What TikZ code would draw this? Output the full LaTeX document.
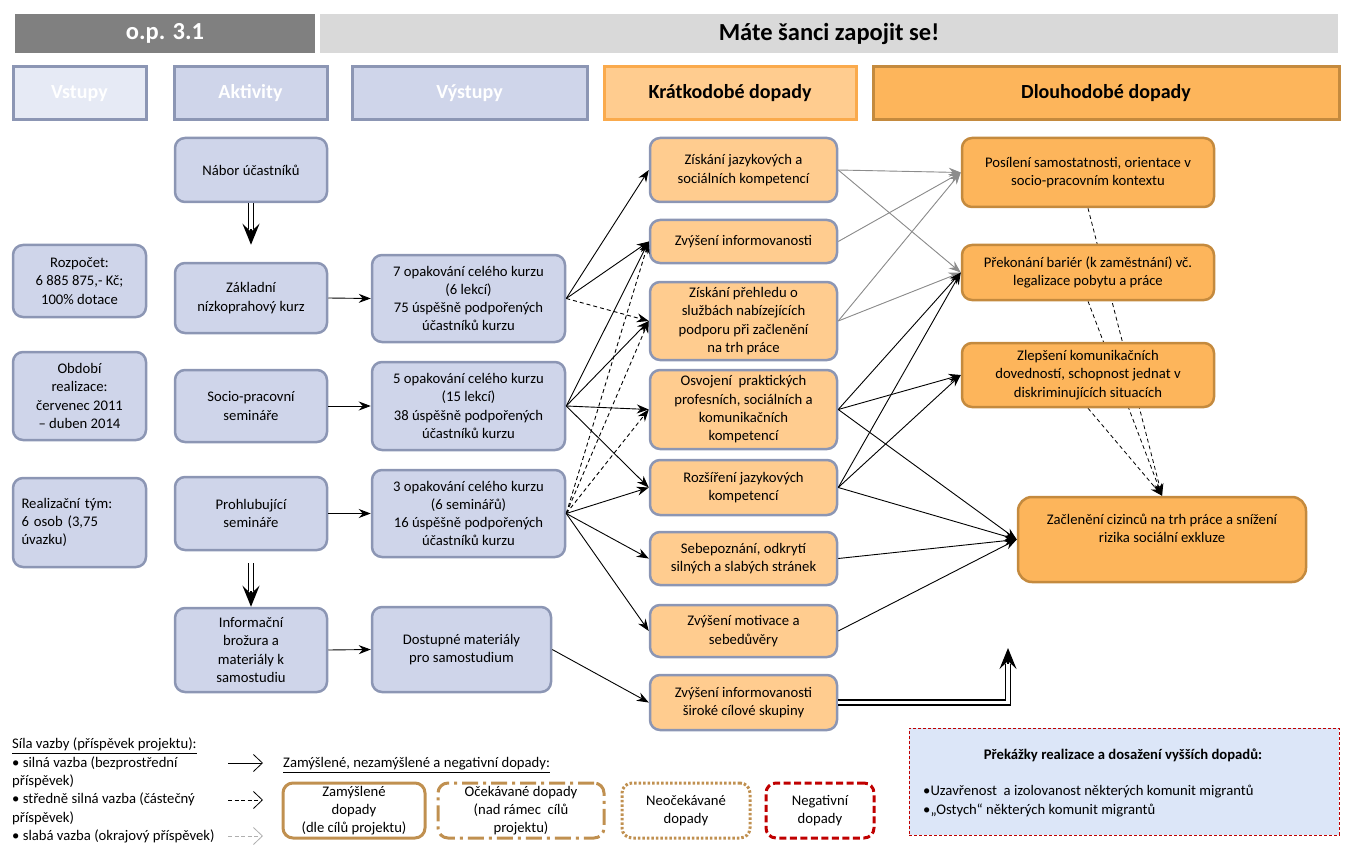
\documentclass[tikz,border=0pt]{standalone}
\usepackage{fontspec}
\setmainfont{Carlito}
\usepackage{tikz}
\usetikzlibrary{arrows.meta,backgrounds}
\definecolor{actfill}{HTML}{CFD5EA}
\definecolor{actline}{HTML}{8C96B4}
\definecolor{infill}{HTML}{E6EAF5}
\definecolor{stfill}{HTML}{FFCC8F}
\definecolor{sthead}{HTML}{FAAA4C}
\definecolor{ltfill}{HTML}{FDB55B}
\definecolor{ltline}{HTML}{C48A3E}
\definecolor{lgbrown}{HTML}{C09050}
\definecolor{negred}{HTML}{C00000}
\definecolor{obsfill}{HTML}{DCE6F8}
\definecolor{weakgray}{HTML}{8C8C8C}
\definecolor{opgray}{HTML}{808080}
\definecolor{titlegray}{HTML}{D9D9D9}
\tikzstyle{arrow} = [line width=0.9pt,->,>={Stealth[length=12pt,width=9pt,inset=4pt]}]
\tikzstyle{arrow_d} = [arrow,dash pattern=on 4pt off 3pt]
\tikzstyle{arrow_g} = [arrow,draw=weakgray,fill=weakgray]
\tikzstyle{arrow_2} = [line width=1.2pt,-{Stealth[length=21pt,width=17pt,inset=8pt]}]
\tikzstyle{double_line} = [double,double distance=3.5pt,line width=1.3pt]
\tikzstyle{legend_arrow} = [line width=0.8pt,-{Straight Barb[length=9pt,width=17pt]}]
\tikzstyle{act} = [rectangle,rounded corners=10pt,draw=actline,fill=actfill,line width=2.5pt,align=center,inner sep=2pt,font=\fontsize{14.67}{18.3}\selectfont]
\tikzstyle{st} = [act,fill=stfill]
\tikzstyle{lt} = [act,draw=ltline,fill=ltfill]
\tikzstyle{head} = [rectangle,line width=3pt,minimum height=53pt,font=\fontsize{20}{24}\selectfont\bfseries]
\tikzstyle{legend_box} = [rectangle,rounded corners=10pt,line width=3pt,draw=lgbrown,minimum height=55pt,align=center,inner sep=1pt,font=\fontsize{14.67}{18.3}\selectfont]
\tikzstyle{legend_txt} = [align=left,inner sep=0pt,font=\fontsize{14.67}{18.3}\selectfont]

\begin{document}
\begin{tikzpicture}[x=1pt,y=-1pt]
    \useasboundingbox (0,0) rectangle (1352,853);

    \node (op) [fill=opgray, minimum width=300pt, minimum height=39pt, text=white, font=\fontsize{24.5}{28}\selectfont\bfseries] at (165,33.5) {o.p. 3.1};
    \node (title) [fill=titlegray, minimum width=1018pt, minimum height=39pt, font=\fontsize{24.5}{28}\selectfont\bfseries] at (829,33.5) {Máte šanci zapojit se!};

    \node (h_vstupy) [head, draw=actline, fill=infill, text=white, minimum width=133pt] at (79.5,93.5) {Vstupy};
    \node (h_aktivity) [head, draw=actline, fill=actfill, text=white, minimum width=153pt] at (250.5,93.5) {Aktivity};
    \node (h_vystupy) [head, draw=actline, fill=actfill, text=white, minimum width=235pt] at (469.5,93.5) {Výstupy};
    \node (h_kratko) [head, draw=sthead, fill=stfill, minimum width=252pt] at (730,93.5) {Krátkodobé dopady};
    \node (h_dlouho) [head, draw=ltline, fill=ltfill, minimum width=466pt] at (1106,93.5) {Dlouhodobé dopady};

    \node (rozpocet) [act, minimum width=133pt, minimum height=72pt] at (79.5,281) {Rozpočet:\\6 885 875,- Kč;\\100\% dotace};
    \node (obdobi) [act, minimum width=133pt, minimum height=88pt] at (79.5,396) {Období\\realizace:\\červenec 2011\\– duben 2014};
    \node (tym) [act, align=left, minimum width=133pt, minimum height=89pt, text width=116pt] at (79.5,522.5) {Realizační tým:\\ 6 osob (3,75\\úvazku)};

    \node (nabor) [act, minimum width=152pt, minimum height=64pt] at (251,170) {Nábor účastníků};
    \node (zakladni) [act, minimum width=152pt, minimum height=70pt] at (251,298) {Základní\\nízkoprahový kurz};
    \node (socio) [act, minimum width=152pt, minimum height=72pt] at (251,406) {Socio-pracovní\\semináře};
    \node (prohlub) [act, minimum width=152pt, minimum height=73pt] at (251,513.5) {Prohlubující\\semináře};
    \node (brozura) [act, minimum width=152pt, minimum height=84pt] at (251,650) {Informační\\brožura a\\materiály k\\samostudiu};

    \node (out_7) [act, minimum width=193pt, minimum height=87pt] at (468.5,298.5) {7 opakování celého kurzu\\(6 lekcí)\\75 úspěšně podpořených\\účastníků kurzu};
    \node (out_5) [act, minimum width=193pt, minimum height=88pt] at (468.5,406) {5 opakování celého kurzu\\(15 lekcí)\\38 úspěšně podpořených\\účastníků kurzu};
    \node (out_3) [act, minimum width=193pt, minimum height=87pt] at (468.5,513.5) {3 opakování celého kurzu\\(6 seminářů)\\16 úspěšně podpořených\\účastníků kurzu};
    \node (out_mat) [act, minimum width=179pt, minimum height=85pt] at (461.5,649.5) {Dostupné materiály\\pro samostudium};

    \node (st_jazyk) [st, minimum width=187pt, minimum height=64pt] at (743.5,170) {Získání jazykových a\\sociálních kompetencí};
    \node (st_info) [st, minimum width=187pt, minimum height=43pt] at (743.5,241.5) {Zvýšení informovanosti};
    \node (st_prehled) [st, minimum width=187pt, minimum height=78pt] at (743.5,321) {Získání přehledu o\\službách nabízejících\\podporu při začlenění\\na trh práce};
    \node (st_osvojeni) [st, minimum width=187pt, minimum height=79pt] at (743.5,409.5) {Osvojení~ praktických\\profesních, sociálních a\\komunikačních\\kompetencí};
    \node (st_rozsireni) [st, minimum width=187pt, minimum height=55pt] at (743.5,487.5) {Rozšíření jazykových\\kompetencí};
    \node (st_sebe) [st, minimum width=187pt, minimum height=53pt] at (743.5,558.5) {Sebepoznání, odkrytí\\silných a slabých stránek};
    \node (st_motivace) [st, minimum width=187pt, minimum height=52pt] at (743.5,631) {Zvýšení motivace a\\sebedůvěry};
    \node (st_siroke) [st, minimum width=187pt, minimum height=55pt] at (743.5,702.5) {Zvýšení informovanosti\\široké cílové skupiny};

    \node (lt_posileni) [lt, minimum width=252pt, minimum height=69pt] at (1088,172.5) {Posílení samostatnosti, orientace v\\socio-pracovním kontextu};
    \node (lt_prekonani) [lt, minimum width=252pt, minimum height=55pt] at (1088,272.5) {Překonání bariér (k zaměstnání) vč.\\legalizace pobytu a práce};
    \node (lt_zlepseni) [lt, minimum width=252pt, minimum height=64pt] at (1088,375) {Zlepšení komunikačních\\dovedností, schopnost jednat v\\diskriminujících situacích};
    \node (lt_zacleneni) [lt, rounded corners=14pt, minimum width=288pt, minimum height=85pt] at (1162,539.5) {Začlenění cizinců na trh práce a snížení\\rizika sociální exkluze\\[4pt]};

    \begin{scope}[on background layer]
        \draw [arrow_d, line width=0.8pt] (lt_posileni.south) -- (lt_zacleneni.north);
        \draw [arrow_d, line width=0.8pt] (lt_prekonani.south) -- (lt_zacleneni.north);
        \draw [arrow_d, line width=0.8pt] (lt_zlepseni.south) -- (lt_zacleneni.north);
    \end{scope}

    \draw [arrow_2, shorten >=17pt] (nabor) -- (zakladni);
    \draw [double_line, shorten >=33pt] (nabor) -- (zakladni);
    \draw [arrow_2, shorten <=12pt] (prohlub) -- (brozura);
    \draw [double_line, shorten <=12pt, shorten >=16pt] (prohlub) -- (brozura);
    \draw [arrow] (zakladni.east) -- (out_7.west);
    \draw [arrow] (socio.east) -- (out_5.west);
    \draw [arrow] (prohlub.east) -- (out_3.west);
    \draw [arrow] (brozura.east) -- (out_mat.west);

    \draw [arrow] (out_7.east) -- (st_jazyk.west);
    \draw [arrow] (out_7.east) -- (st_info.west);
    \draw [arrow_d] (out_7.east) -- (st_prehled.west);
    \draw [arrow] (out_5.east) -- (st_info.west);
    \draw [arrow] (out_5.east) -- (st_prehled.west);
    \draw [arrow] (out_5.east) -- (st_osvojeni.west);
    \draw [arrow] (out_5.east) -- (st_rozsireni.west);
    \draw [arrow_d] (out_3.east) -- (st_info.west);
    \draw [arrow_d] (out_3.east) -- (st_prehled.west);
    \draw [arrow_d] (out_3.east) -- (st_osvojeni.west);
    \draw [arrow] (out_3.east) -- (st_rozsireni.west);
    \draw [arrow] (out_3.east) -- (st_sebe.west);
    \draw [arrow] (out_3.east) -- (st_motivace.west);
    \draw [arrow] (out_mat.east) -- (st_siroke.west);

    \draw [arrow_g] (st_jazyk.east) -- (lt_posileni.west);
    \draw [arrow_g] (st_jazyk.east) -- (lt_prekonani.west);
    \draw [arrow_g] (st_info.east) -- (lt_posileni.west);
    \draw [arrow_g] (st_prehled.east) -- (lt_posileni.west);
    \draw [arrow_g] (st_prehled.east) -- (lt_prekonani.west);
    \draw [arrow] (st_osvojeni.east) -- (lt_prekonani.west);
    \draw [arrow] (st_osvojeni.east) -- (lt_zlepseni.west);
    \draw [arrow] (st_osvojeni.east) -- (lt_zacleneni.west);
    \draw [arrow] (st_rozsireni.east) -- (lt_prekonani.west);
    \draw [arrow] (st_rozsireni.east) -- (lt_zlepseni.west);
    \draw [arrow] (st_rozsireni.east) -- (lt_zacleneni.west);
    \draw [arrow] (st_sebe.east) -- (lt_zacleneni.west);
    \draw [arrow] (st_motivace.east) -- (lt_zacleneni.west);
    \coordinate (siroke_end) at (1008,648);
    \draw [arrow_2] (st_siroke.east) -| (siroke_end);
    \draw [double_line, shorten >=16pt] (st_siroke.east) -| (siroke_end);

    \node (sila) [legend_txt, anchor=north west] at (12,738) {\underline{Síla vazby (příspěvek projektu):}\\• silná vazba (bezprostřední\\příspěvek)\\• středně silná vazba (částečný\\příspěvek)\\• slabá vazba (okrajový příspěvek)};
    \coordinate (lg_s1) at (228,763);
    \coordinate (lg_e1) at (263,763);
    \coordinate (lg_s2) at (228,800);
    \coordinate (lg_e2) at (263,800);
    \coordinate (lg_s3) at (228,836);
    \coordinate (lg_e3) at (263,836);
    \draw [legend_arrow] (lg_s1) -- (lg_e1);
    \draw [legend_arrow, dash pattern=on 4pt off 2.5pt] (lg_s2) -- (lg_e2);
    \draw [legend_arrow, dash pattern=on 4pt off 2.5pt, draw=weakgray!70] (lg_s3) -- (lg_e3);

    \node (dopady) [legend_txt, anchor=west] at (283,765) {\underline{Zamýšlené, nezamýšlené a negativní dopady:}};
    \node (lg_zam) [legend_box, minimum width=142pt] at (354,810.5) {Zamýšlené\\dopady\\(dle cílů projektu)};
    \node (lg_ocek) [legend_box, minimum width=166pt, dash pattern=on 16pt off 5pt on 3pt off 5pt] at (521,810.5) {Očekávané dopady\\(nad rámec~ cílů\\projektu)};
    \node (lg_neocek) [legend_box, minimum width=128pt, dash pattern=on 2.5pt off 2pt] at (686,810.5) {Neočekávané\\dopady};
    \node (lg_neg) [legend_box, minimum width=108pt, draw=negred, dash pattern=on 7pt off 3.5pt] at (820,810.5) {Negativní\\dopady};

    \node (prekazky) [rectangle, fill=obsfill, draw=negred, line width=0.8pt, dash pattern=on 3pt off 2pt, minimum width=430pt, minimum height=107pt] at (1124,781.5) {};
    \node (prek_title) [font=\fontsize{14.67}{18.3}\selectfont\bfseries] at (1123,755) {Překážky realizace a dosažení vyšších dopadů:};
    \node (prek_list) [legend_txt, anchor=west] at (923,801) {•Uzavřenost~ a izolovanost některých komunit migrantů\\•„Ostych“ některých komunit migrantů};
\end{tikzpicture}
\end{document}
